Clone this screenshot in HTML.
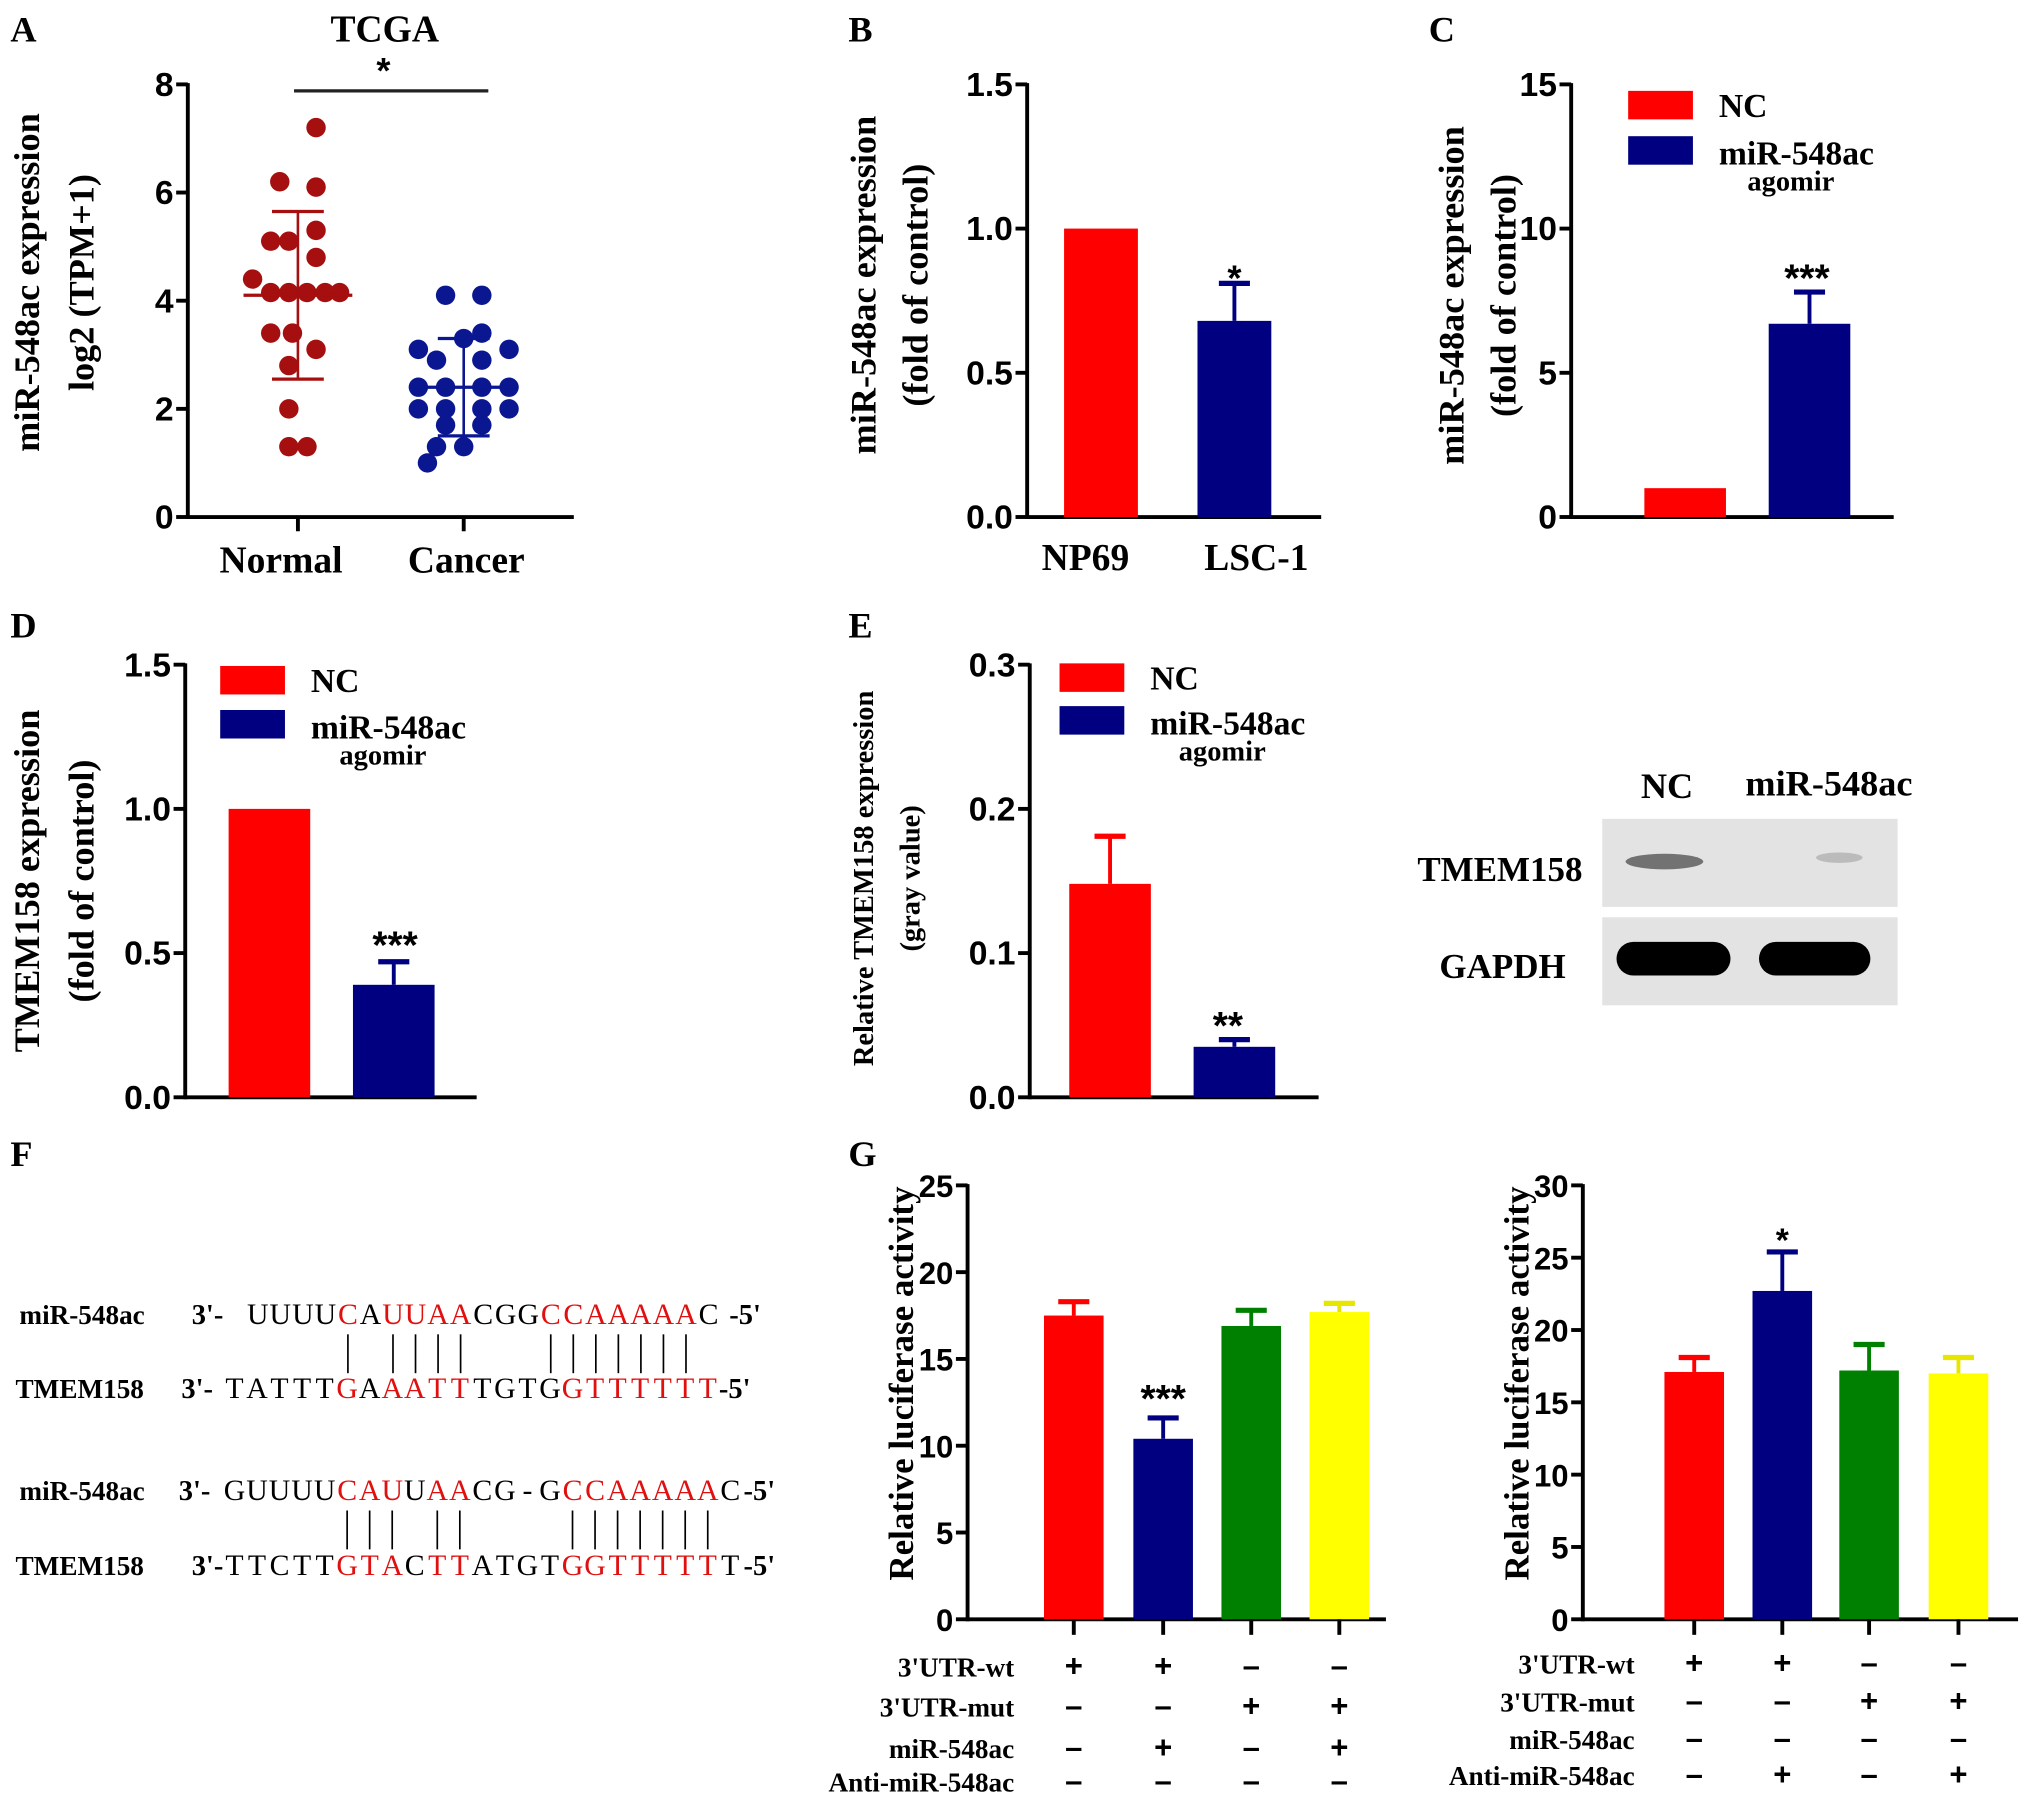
<!DOCTYPE html>
<html><head><meta charset="utf-8"><style>
html,body{margin:0;padding:0;background:#fff;}
svg{display:block;}
.t{font-family:"Liberation Serif",serif;font-weight:bold;fill:#000;}
.n{font-family:"Liberation Sans Narrow","Liberation Sans",sans-serif;font-weight:bold;fill:#000;}
</style></head><body>
<svg id="fig" width="2031" height="1806" viewBox="0 0 1568 1394" xmlns="http://www.w3.org/2000/svg">
<g class="t" font-size="28">
<text x="8" y="32">A</text><text x="655" y="32">B</text><text x="1103" y="32">C</text>
<text x="8" y="492">D</text><text x="655" y="492">E</text><text x="8" y="900">F</text><text x="655" y="900">G</text>
</g>
<g id="blot">
<text class="t" x="1287" y="616" font-size="28" text-anchor="middle">NC</text>
<text class="t" x="1412" y="614" font-size="28" text-anchor="middle">miR-548ac</text>
<text class="t" x="1158" y="680" font-size="27" text-anchor="middle">TMEM158</text>
<text class="t" x="1160" y="755" font-size="27" text-anchor="middle">GAPDH</text>
<rect x="1237" y="632" width="228" height="68" fill="#e3e3e3"/>
<rect x="1237" y="708" width="228" height="68" fill="#e3e3e3"/>
<ellipse cx="1285" cy="665" rx="30" ry="6" fill="#555" opacity="0.8"/>
<ellipse cx="1420" cy="662" rx="18" ry="4" fill="#bbb"/>
<rect x="1248" y="727" width="88" height="26" rx="13" fill="#000"/>
<rect x="1358" y="727" width="86" height="26" rx="13" fill="#000"/>
</g>
<g id="seq"></g>
<g id="charts"></g>
</svg>
<script>
// ---- Panel A data ----
const aCats = ["Normal","Cancer"];
const aNormal = [7.2,6.2,6.1,5.3,5.1,5.1,4.8,4.4,4.15,4.15,4.15,4.15,4.15,3.4,3.4,3.1,2.8,2.0,1.3,1.3];
const aNormalJit = [1,-1,1,1,-1.5,-0.5,1,-2.5,-1.5,-0.5,0.5,1.5,2.3,-1.5,-0.3,1,-0.5,-0.5,-0.5,0.5];
const aCancer = [4.1,4.1,3.3,3.4,3.1,3.1,2.9,2.9,2.4,2.4,2.4,2.4,2.0,2.0,2.0,2.0,1.7,1.7,1.3,1.3,1.0];
const aCancerJit = [-1,1,0,1,-2.5,2.5,-1.5,1,-2.5,-1,1,2.5,-2.5,-1,1,2.5,-1,1,-1.5,0,-2];
const aMean = [4.1,2.4];
const aSdLo = [2.55,1.5];
const aSdHi = [5.65,3.3];
const aTicks = [0,2,4,6,8];
// ---- Panel B ----
const bCats = ["NP69","LSC-1"];
const bVals = [1.0,0.68];
const bErr = [0,0.81];
const bTicks = [0,0.5,1.0,1.5];
// ---- Panel C ----
const cVals = [1.0,6.7];
const cErr = [0,7.8];
const cTicks = [0,5,10,15];
// ---- Panel D ----
const dVals = [1.0,0.39];
const dErr = [0,0.47];
const dTicks = [0,0.5,1.0,1.5];
// ---- Panel E ----
const eVals = [0.148,0.035];
const eErr = [0.181,0.04];
const eTicks = [0,0.1,0.2,0.3];
// ---- Panel G ----
const g1Vals = [17.5,10.4,16.9,17.7];
const g1Err = [18.3,11.6,17.8,18.2];
const g1Ticks = [0,5,10,15,20,25];
const g2Vals = [17.1,22.7,17.2,17.0];
const g2Err = [18.1,25.4,19.0,18.1];
const g2Ticks = [0,5,10,15,20,25,30];
const gRows = ["3'UTR-wt","3'UTR-mut","miR-548ac","Anti-miR-548ac"];
const g1Signs = [["+","+","-","-"],["-","-","+","+"],["-","+","-","+"],["-","-","-","-"]];
const g2Signs = [["+","+","-","-"],["-","-","+","+"],["-","-","-","-"],["-","+","-","+"]];

const NS="http://www.w3.org/2000/svg";
const root=document.getElementById('charts');
function mk(tag,attrs,parent,text){const e=document.createElementNS(NS,tag);for(const k in attrs)e.setAttribute(k,attrs[k]);if(text!==undefined)e.textContent=text;(parent||root).appendChild(e);return e;}
function yScale(y0,y1,max){return v=>y0-(v/max)*(y0-y1);}

function axes(g,ax,y0,y1,x2,ticks,max,fmt,fs){
  const ys=yScale(y0,y1,max);
  mk('line',{x1:ax,y1:y1-1,x2:ax,y2:y0+1.5,stroke:'#000','stroke-width':3},g);
  mk('line',{x1:ax,y1:y0,x2:x2,y2:y0,stroke:'#000','stroke-width':3},g);
  ticks.forEach(t=>{
    const y=ys(t);
    mk('line',{x1:ax-9,y1:y,x2:ax,y2:y,stroke:'#000','stroke-width':3},g);
    const tx=mk('text',{x:ax-11,y:y+9,'text-anchor':'end','font-size':fs||26,class:'n'},g,fmt(t));
    
    
  });
  return ys;
}
function ylabel(g,x,cy,txt,fs){
  const t=mk('text',{x:0,y:0,transform:`translate(${x},${cy}) rotate(-90)`,'text-anchor':'middle','font-size':fs,class:'t'},g,txt);
  
  
}
function bars(g,ys,y0,xs,w,vals,errs,colors){
  vals.forEach((v,i)=>{
    const x=xs[i];
    if(errs[i]>v){
      mk('line',{x1:x,y1:ys(errs[i]),x2:x,y2:ys(v),stroke:colors[i]==='#ffff00'?'#e6e600':colors[i],'stroke-width':3},g);
      mk('line',{x1:x-12,y1:ys(errs[i]),x2:x+12,y2:ys(errs[i]),stroke:colors[i]==='#ffff00'?'#e6e600':colors[i],'stroke-width':4},g);
    }
    const r=mk('rect',{x:x-w/2,y:ys(v),width:w,height:y0-ys(v),fill:colors[i]},g);
    
    
  });
}
function legend(g,x,y,gap){
  mk('rect',{x:x,y:y,width:50,height:22,fill:'#ff0000'},g);
  mk('text',{x:x+70,y:y+20,'font-size':26,class:'t'},g,'NC');
  mk('rect',{x:x,y:y+gap,width:50,height:22,fill:'#000080'},g);
  mk('text',{x:x+70,y:y+gap+22,'font-size':26,class:'t'},g,'miR-548ac');
  mk('text',{x:x+92,y:y+gap+42,'font-size':22,class:'t'},g,'agomir');
}
function star(g,x,y,s,fs){const t=mk('text',{x:x,y:y,'text-anchor':'middle','font-size':fs||30,class:'n','font-weight':'normal'},g,s);}

// Panel A
{
 const g=mk('g',{});
 
 
 const ys=axes(g,145,399,65,443,aTicks,8,t=>String(t),26);
 const cx=[230,358];
 const lx=[217,360];
 cx.forEach((x,i)=>{mk('line',{x1:x,y1:399,x2:x,y2:410,stroke:'#000','stroke-width':3},g);
  const t=mk('text',{x:lx[i],y:442,'text-anchor':'middle','font-size':29,class:'t'},g,aCats[i]);
  });
 mk('text',{x:297,y:32,'text-anchor':'middle','font-size':29,class:'t'},g,'TCGA');
 mk('line',{x1:227,y1:70,x2:377,y2:70,stroke:'#222','stroke-width':2.5},g);
 star(g,296,64,'*',28);
 ylabel(g,30,218,'miR-548ac expression',28);ylabel(g,72,218,'log2 (TPM+1)',28);
 const sets=[[aNormal,aNormalJit,'#a50f0f'],[aCancer,aCancerJit,'#0a1790']];
 sets.forEach((s,i)=>{
  s[0].forEach((v,j)=>{const c=mk('circle',{cx:cx[i]+s[1][j]*14,cy:ys(v),r:7.5,fill:s[2]},g);
   });
  const col=s[2];
  mk('line',{x1:cx[i],y1:ys(aSdHi[i]),x2:cx[i],y2:ys(aSdLo[i]),stroke:col,'stroke-width':2},g);
  mk('line',{x1:cx[i]-20,y1:ys(aSdHi[i]),x2:cx[i]+20,y2:ys(aSdHi[i]),stroke:col,'stroke-width':2.5},g);
  mk('line',{x1:cx[i]-20,y1:ys(aSdLo[i]),x2:cx[i]+20,y2:ys(aSdLo[i]),stroke:col,'stroke-width':2.5},g);
  mk('line',{x1:cx[i]-42,y1:ys(aMean[i]),x2:cx[i]+42,y2:ys(aMean[i]),stroke:col,'stroke-width':2.5},g);
 });
}
// Panel B
{
 const g=mk('g',{});
 
 
 const ys=axes(g,793,399,65,1020,bTicks,1.5,t=>t.toFixed(1),26);
 bars(g,ys,399,[850,953],57,bVals,bErr,['#ff0000','#000080']);
 [838,970].forEach((x,i)=>{const t=mk('text',{x:x,y:440,'text-anchor':'middle','font-size':29,class:'t'},g,bCats[i]);});
 star(g,953,224,'*',28);
 ylabel(g,676,220,'miR-548ac expression',28);ylabel(g,716,220,'(fold of control)',28);
}
// Panel C
{
 const g=mk('g',{});
 
 
 const ys=axes(g,1213,399,65,1462,cTicks,15,t=>String(t),26);
 bars(g,ys,399,[1301,1397],63,cVals,cErr,['#ff0000','#000080']);
 star(g,1395,225,'***',30);
 legend(g,1257,70,35);
 ylabel(g,1130,228,'miR-548ac expression',28);ylabel(g,1170,228,'(fold of control)',28);
}
// Panel D
{
 const g=mk('g',{});
 
 
 const ys=axes(g,143,847,513,368,dTicks,1.5,t=>t.toFixed(1),26);
 bars(g,ys,847,[208,304],63,dVals,dErr,['#ff0000','#000080']);
 star(g,305,740,'***',30);
 legend(g,170,514,34);
 ylabel(g,30,680,'TMEM158 expression',28);ylabel(g,72,680,'(fold of control)',28);
}
// Panel E
{
 const g=mk('g',{});
 
 
 const ys=axes(g,795,847,513,1018,eTicks,0.3,t=>t.toFixed(1),26);
 bars(g,ys,847,[857,953],63,eVals,eErr,['#ff0000','#000080']);
 star(g,948,802,'**',30);
 legend(g,818,512,33);
 ylabel(g,674,678,'Relative TMEM158 expression',22);ylabel(g,710,678,'(gray value)',22);
}
// Panel G
function gchart(name,ax,x2,ticks,max,xs,vals,errs,signs,labelX,rowY,star_s,starY,ylx){
 const g=mk('g',{});
 
 
 const ys=axes(g,ax,1250,915,x2,ticks,max,t=>String(t),24);
 bars(g,ys,1250,xs,46,vals,errs,['#ff0000','#000080','#008000','#ffff00']);
 xs.forEach(x=>mk('line',{x1:x,y1:1250,x2:x,y2:1262,stroke:'#000','stroke-width':3},g));
 star(g,xs[1],starY,star_s,star_s.length>1?30:26);
 ylabel(g,ylx,1068,'Relative luciferase activity',27);
 gRows.forEach((r,i)=>{
  const t=mk('text',{x:labelX,y:rowY[i],'text-anchor':'end','font-size':21,class:'t'},g,r);
  
  signs[i].forEach((s,j)=>mk('text',{x:xs[j],y:rowY[i],'text-anchor':'middle','font-size':24,class:'n'},g,s==='+'?'+':'–'));
 });
}
gchart('panel-g-left-bars',747,1070,g1Ticks,25,[829,898,966,1034],g1Vals,g1Err,g1Signs,783,[1294,1325,1357,1383],'***',1090,705);
gchart('panel-g-right-bars',1222,1558,g2Ticks,30,[1308,1376,1443,1512],g2Vals,g2Err,g2Signs,1262,[1292,1321,1350,1378],'*',966,1180);

// Panel F sequences
const seqRows=[
 {label:'miR-548ac',lx:15,y:1022,pre:"3'-",px:148,seq:"UUUUCAUUAACGGCCAAAAAC",start:199,red:[4,6,7,8,9,13,14,15,16,17,18,19],post:"-5'",postx:563},
 {label:'TMEM158',lx:12,y:1079,pre:"3'-",px:140,seq:"TATTTGAAATTTGTGGTTTTTT",start:181,red:[5,7,8,9,10,15,16,17,18,19,20,21],post:"-5'",postx:555},
 {label:'miR-548ac',lx:15,y:1158,pre:"3'-",px:138,seq:"GUUUUCAUUAACG-GCCAAAAAC",start:181,red:[5,6,7,9,10,15,16,17,18,19,20,21],post:"-5'",postx:574},
 {label:'TMEM158',lx:12,y:1216,pre:"3'-",px:148,seq:"TTCTTGTACTTATGTGGTTTTTT",start:181,red:[5,6,7,9,10,15,16,17,18,19,20,21],post:"-5'",postx:574}
];
const seqLinks=[[4,6,7,8,9,13,14,15,16,17,18,19],[5,6,7,9,10,15,16,17,18,19,20,21]];
const STEP=17.4;
const sg=document.getElementById('seq');
seqRows.forEach(r=>{
 mk('text',{x:r.lx,y:r.y,'font-size':21,class:'t'},sg,r.label);
 mk('text',{x:r.px,y:r.y,'font-size':22,class:'t','font-weight':'normal'},sg,r.pre);
 for(let i=0;i<r.seq.length;i++){
  mk('text',{x:r.start+i*STEP,y:r.y,'text-anchor':'middle','font-size':23,fill:r.red.includes(i)?'#e01010':'#000',style:'font-family:"Liberation Serif",serif'},sg,r.seq[i]);
 }
 mk('text',{x:r.postx,y:r.y,'font-size':22,class:'t','font-weight':'normal'},sg,r.post);
});
seqLinks[0].forEach(i=>mk('line',{x1:199+i*STEP,y1:1030,x2:199+i*STEP,y2:1060,stroke:'#000','stroke-width':1.3},sg));
seqLinks[1].forEach(i=>mk('line',{x1:181+i*STEP,y1:1166,x2:181+i*STEP,y2:1196,stroke:'#000','stroke-width':1.3},sg));
</script>
</body></html>
